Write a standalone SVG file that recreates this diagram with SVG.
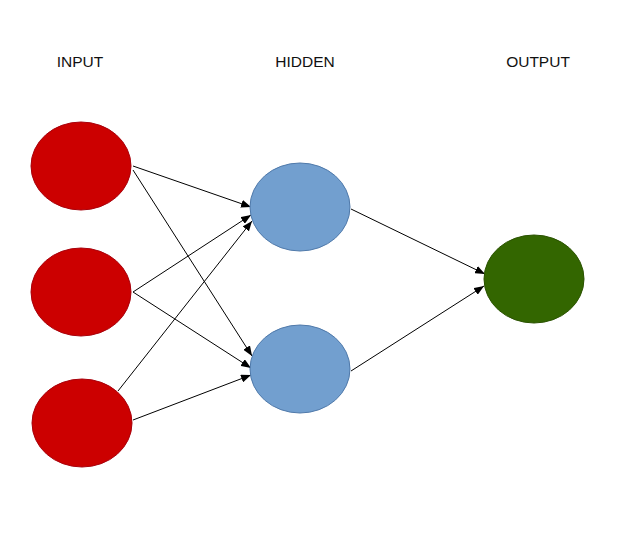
<svg xmlns="http://www.w3.org/2000/svg" width="640" height="549" viewBox="0 0 640 549">
  <style>
    .label { font-family: "Liberation Sans", Arial, sans-serif; font-size: 15.5px; fill: #111; text-anchor: middle; }
    .in { fill: #cc0000; stroke: #a8000a; stroke-width: 1; }
    .hid { fill: #729fcf; stroke: #4f79aa; stroke-width: 1; }
    .out { fill: #336600; stroke: #2a5200; stroke-width: 1; }
    .edge { stroke: #000; stroke-width: 1; fill: none; marker-end: url(#arrow); }
  </style>
  <defs>
    <marker id="arrow" viewBox="0 0 10 8" refX="10" refY="4" markerWidth="10" markerHeight="8" markerUnits="userSpaceOnUse" orient="auto">
      <path d="M0,0 L10,4 L0,8 Z" fill="#000"/>
    </marker>
  </defs>
  <rect width="640" height="549" fill="#fff"/>

  <!-- column headings -->
  <text class="label" x="80" y="67">INPUT</text>
  <text class="label" x="305" y="67">HIDDEN</text>
  <text class="label" x="538" y="67">OUTPUT</text>

  <!-- connectors -->
  <g id="connectors">
    <line class="edge" x1="133" y1="166" x2="251" y2="207"/>
    <line class="edge" x1="133" y1="170" x2="252" y2="356"/>
    <line class="edge" x1="133" y1="292" x2="251" y2="215"/>
    <line class="edge" x1="133" y1="292" x2="251" y2="368"/>
    <line class="edge" x1="118" y1="391" x2="252" y2="221"/>
    <line class="edge" x1="133" y1="420" x2="251" y2="375"/>
    <line class="edge" x1="351" y1="209" x2="485" y2="274"/>
    <line class="edge" x1="351" y1="371" x2="484" y2="286"/>
  </g>

  <!-- input layer -->
  <g id="input-1"><ellipse class="in" cx="81" cy="166" rx="50" ry="44"/></g>
  <g id="input-2"><ellipse class="in" cx="81" cy="292" rx="50" ry="44"/></g>
  <g id="input-3"><ellipse class="in" cx="82" cy="423" rx="50" ry="44"/></g>

  <!-- hidden layer -->
  <g id="hidden-1"><ellipse class="hid" cx="300" cy="207" rx="50" ry="44"/></g>
  <g id="hidden-2"><ellipse class="hid" cx="300" cy="369" rx="50" ry="44"/></g>

  <!-- output layer -->
  <g id="output-1"><ellipse class="out" cx="534" cy="279" rx="50" ry="44"/></g>
</svg>
